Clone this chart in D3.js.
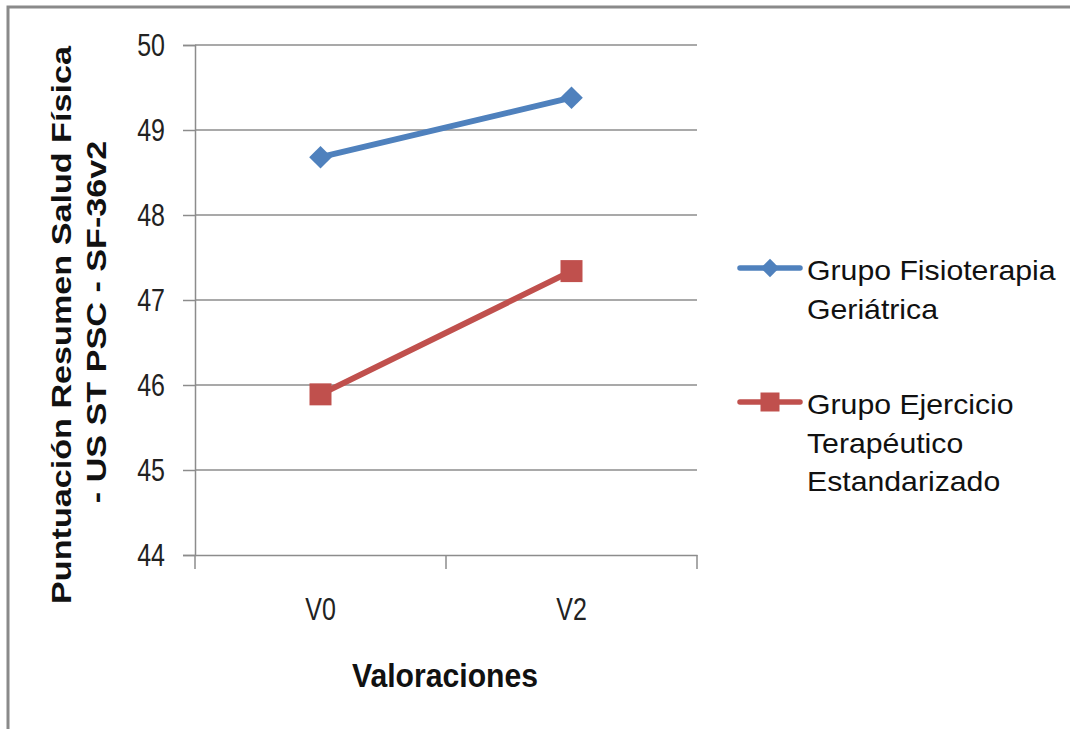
<!DOCTYPE html>
<html>
<head>
<meta charset="utf-8">
<script src="https://cdn.jsdelivr.net/npm/d3@7"></script>
<style>
  html, body { margin: 0; padding: 0; background: #fff; }
  svg { display: block; }
  text { font-family: "Liberation Sans", Arial, sans-serif; }
</style>
</head>
<body>
<svg id="chart" width="1070" height="729"></svg>
<script>
const categories = ["V0", "V2"];
const seriesNames = ["Grupo Fisioterapia Geriátrica", "Grupo Ejercicio Terapéutico Estandarizado"];
const fisioterapia = [48.68, 49.38];
const ejercicio = [45.89, 47.34];
const yTicks = [44, 45, 46, 47, 48, 49, 50];
const legendLines = [["Grupo Fisioterapia", "Geriátrica"], ["Grupo Ejercicio", "Terapéutico", "Estandarizado"]];
const yTitleLines = ["Puntuación Resumen Salud Física", "- US ST PSC - SF-36v2"];
const xTitle = "Valoraciones";

(function () {
const svg = d3.select("#chart");
const gridColor = "#8c8c8c";
const colors = ["#4F81BD", "#C0504D"];

// outer chart border
svg.append("rect").attr("x", 8).attr("y", 7).attr("width", 1200).attr("height", 900)
  .attr("fill", "#fff").attr("stroke", "#8a8a8a").attr("stroke-width", 3);

const pLeft = 195, pRight = 697, pTop = 45, pBottom = 555;
const x = d3.scaleBand().domain(categories).range([pLeft, pRight]);
const y = d3.scaleLinear().domain([44, 50]).range([pBottom, pTop]);

// gridlines
svg.append("g").selectAll("line").data(yTicks.filter(d => d !== 44)).join("line")
  .attr("x1", pLeft).attr("x2", pRight)
  .attr("y1", d => y(d)).attr("y2", d => y(d))
  .attr("stroke", gridColor).attr("stroke-width", 1.5);

// y axis
const yAxis = svg.append("g").attr("transform", `translate(${pLeft},0)`)
  .call(d3.axisLeft(y).tickValues(yTicks).tickSize(12).tickPadding(18).tickFormat(d3.format("d")));
yAxis.select(".domain").attr("stroke", gridColor).attr("stroke-width", 1.5);
yAxis.selectAll(".tick line").attr("stroke", gridColor).attr("stroke-width", 1.5);
yAxis.selectAll(".tick text").attr("font-size", 25).attr("fill", "#222")
  .attr("font-family", "'Liberation Sans', Arial, sans-serif")
  .attr("dy", null).attr("dominant-baseline", "central")
  .attr("transform", "scale(1,1.22)");

// x axis
const xAxis = svg.append("g").attr("transform", `translate(0,${pBottom})`)
  .call(d3.axisBottom(x).tickSize(0).tickPadding(0));
xAxis.select(".domain").attr("stroke", gridColor).attr("stroke-width", 1.5);
xAxis.selectAll(".tick line").remove();
xAxis.selectAll(".tick text").attr("font-size", 25).attr("fill", "#222")
  .attr("font-family", "'Liberation Sans', Arial, sans-serif")
  .attr("y", 0).attr("dy", null)
  .attr("transform", "translate(0,55) scale(1,1.22)")
  .attr("dominant-baseline", "central");
// category boundary ticks
const boundaries = [pLeft].concat(categories.map(c => x(c) + x.bandwidth()));
svg.append("g").selectAll("line").data(boundaries).join("line")
  .attr("x1", d => d).attr("x2", d => d)
  .attr("y1", pBottom).attr("y2", pBottom + 14)
  .attr("stroke", gridColor).attr("stroke-width", 1.5);

// series
const line = d3.line().x((d, i) => x(categories[i]) + x.bandwidth() / 2).y(d => y(d));
const seriesData = [fisioterapia, ejercicio];
seriesData.forEach((vals, si) => {
  svg.append("path").datum(vals).attr("d", line)
    .attr("fill", "none").attr("stroke", colors[si]).attr("stroke-width", 6)
    .attr("stroke-linecap", "round");
  svg.append("g").selectAll("path").data(vals).join("path")
    .attr("transform", (d, i) => `translate(${x(categories[i]) + x.bandwidth() / 2},${y(d)})` + (si === 0 ? " rotate(45)" : ""))
    .attr("d", d3.symbol(d3.symbolSquare, si === 0 ? 16 * 16 : 22 * 22)())
    .attr("fill", colors[si]);
});

// legend
const legendY = [268, 402];
legendLines.forEach((lines, si) => {
  const g = svg.append("g");
  g.append("line").attr("x1", 740).attr("x2", 800).attr("y1", legendY[si]).attr("y2", legendY[si])
    .attr("stroke", colors[si]).attr("stroke-width", 5.5).attr("stroke-linecap", "round");
  g.append("path")
    .attr("transform", `translate(770,${legendY[si]})` + (si === 0 ? " rotate(45)" : ""))
    .attr("d", d3.symbol(d3.symbolSquare, si === 0 ? 13 * 13 : 19 * 19)())
    .attr("fill", colors[si]);
  lines.forEach((t, li) => {
    g.append("text").attr("transform", `translate(807,${legendY[si] + 12 + li * 38.5}) scale(1.08,1)`)
      .attr("font-size", 28).attr("fill", "#111").text(t);
  });
});

// y axis title
const yt = svg.append("g");
yTitleLines.forEach((t, i) => {
  yt.append("text")
    .attr("transform", `translate(${62 + i * 35},${i === 0 ? 325 : 322}) rotate(-90) scale(1.22,1)`)
    .attr("text-anchor", "middle").attr("dominant-baseline", "central")
    .attr("font-size", 28).attr("font-weight", "bold").attr("fill", "#111").text(t);
});

// x axis title
svg.append("text").attr("transform", "translate(445,676) scale(1.04,1.12)")
  .attr("text-anchor", "middle").attr("dominant-baseline", "central")
  .attr("font-size", 29).attr("font-weight", "bold").attr("fill", "#111").text(xTitle);
})();
</script>
</body>
</html>
